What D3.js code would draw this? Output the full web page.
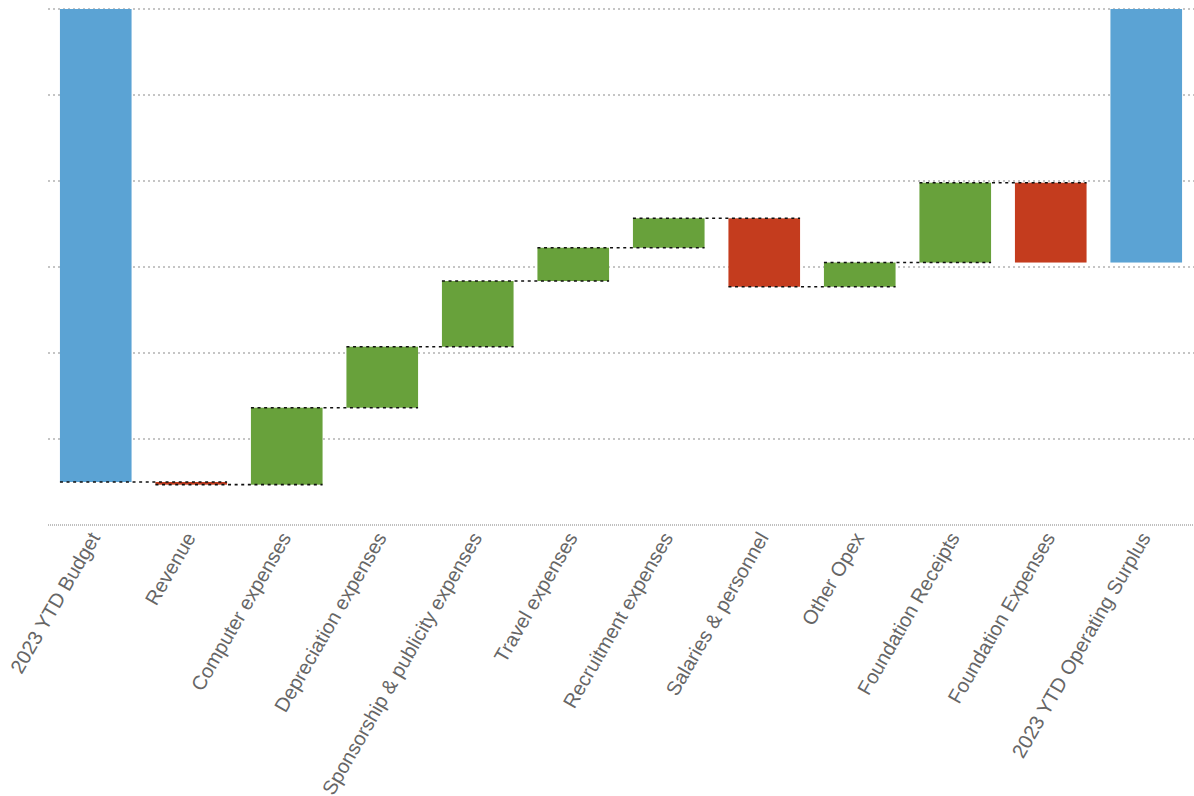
<!DOCTYPE html>
<html>
<head>
<meta charset="utf-8">
<script src="https://cdn.jsdelivr.net/npm/d3@7"></script>
<style>
    body { margin: 0; background: #fff; }
    svg { display: block; }
    .label { font-family: "Liberation Sans", Arial, sans-serif; font-size: 20px; fill: #666; }
</style>
</head>
<body>
<svg id="chart" width="1194" height="796"></svg>
<script>
// chart data ($k, budget variance walk)
var categories = ["2023 YTD Budget", "Revenue", "Computer expenses", "Depreciation expenses",
    "Sponsorship & publicity expenses", "Travel expenses", "Recruitment expenses",
    "Salaries & personnel", "Other Opex", "Foundation Receipts", "Foundation Expenses",
    "2023 YTD Operating Surplus"]
var values = [-550, -3.1, 89.5, 70.9, 76.4, 38.7, 34.2, -79.5, 28.1, 92.8, -92.8, -294.8]
var kinds = ["total", "step", "step", "step", "step", "step", "step", "step", "step", "step", "step", "total"]
var gridValues = [0, -100, -200, -300, -400, -500]
var yDomain = [-600, 0]

var colors = { total: "#5ba3d4", up: "#68a13b", down: "#c43c1e" }

function Waterfall() {
    var svg = d3.select("#chart"),
        width = 1194,
        marginLeft = 48,
        marginTop = 9,
        axisY = 525

    // build running totals
    var running = 0
    var bars = categories.map(function(c, i) {
        var d = { name: c, kind: kinds[i], value: values[i] }
        if (d.kind === "total") {
            d.start = 0
            d.end = values[i]
        } else {
            d.start = running
            d.end = running + values[i]
        }
        running = d.end
        return d
    })

    var x = d3.scaleBand()
        .domain(categories)
        .range([marginLeft, width])
        .paddingInner(0.25)
        .paddingOuter(0.125)

    var y = d3.scaleLinear()
        .domain(yDomain)
        .range([axisY, marginTop])

    // gridlines
    svg.append("g").selectAll("line")
        .data(gridValues)
        .enter().append("line")
        .attr("x1", marginLeft)
        .attr("x2", width)
        .attr("y1", function(d) { return y(d) })
        .attr("y2", function(d) { return y(d) })
        .attr("stroke", "#b3b3b3")
        .attr("stroke-width", 1.5)
        .attr("stroke-dasharray", "2,3")

    // x axis line
    svg.append("line")
        .attr("x1", marginLeft)
        .attr("x2", width)
        .attr("y1", y(yDomain[0]))
        .attr("y2", y(yDomain[0]))
        .attr("stroke", "#aaa")
        .attr("stroke-width", 1.5)
        .attr("stroke-dasharray", "1,1")

    // bars
    svg.append("g").selectAll("rect")
        .data(bars)
        .enter().append("rect")
        .attr("x", function(d) { return x(d.name) })
        .attr("width", x.bandwidth())
        .attr("y", function(d) { return y(Math.max(d.start, d.end)) })
        .attr("height", function(d) { return Math.abs(y(d.start) - y(d.end)) })
        .style("fill", function(d) {
            if (d.kind === "total") { return colors.total }
            return d.value >= 0 ? colors.up : colors.down
        })

    // connectors: from left of bar i to right of bar i+1 (none into the final total)
    var links = bars.slice(0, bars.length - 2)
    svg.append("g").selectAll("line")
        .data(links)
        .enter().append("line")
        .attr("x1", function(d) { return x(d.name) })
        .attr("x2", function(d, i) { return x(categories[i + 1]) + x.bandwidth() })
        .attr("y1", function(d) { return y(d.end) })
        .attr("y2", function(d) { return y(d.end) })
        .attr("stroke", "#111")
        .attr("stroke-width", 1.6)
        .attr("stroke-dasharray", "3,3.6")

    // category labels
    svg.append("g").selectAll("text")
        .data(categories)
        .enter().append("text")
        .attr("class", "label")
        .attr("text-anchor", "end")
        .attr("dy", "0.35em")
        .attr("transform", function(d) {
            return "translate(" + (x(d) + x.bandwidth() / 2 - 1) + "," + (axisY + 9) + ") rotate(-60)"
        })
        .text(function(d) { return d })
}

Waterfall()
</script>
</body>
</html>
